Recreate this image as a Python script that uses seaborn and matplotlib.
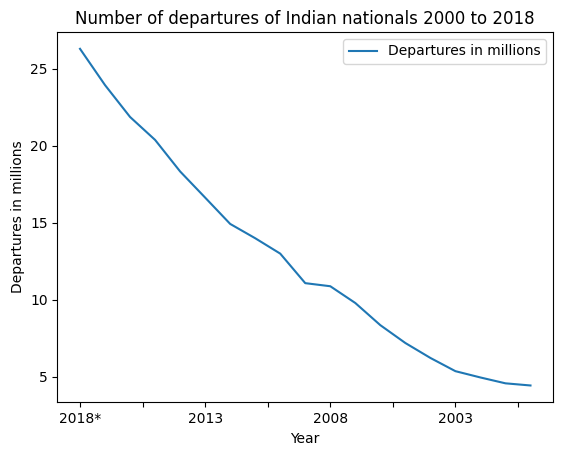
import numpy as np
import pandas as pd
import matplotlib
matplotlib.use('Agg')
import matplotlib.pyplot as plt
import seaborn as sns

# dados
anos = ['2018*', '2017', '2016', '2015', '2014', '2013', '2012', '2011', '2010', '2009',
        '2008', '2007', '2006', '2005', '2004', '2003', '2002', '2001', '2000']
partidas = [26.3, 23.94, 21.87, 20.38, 18.33, 16.63, 14.92, 13.99, 12.99, 11.07,
            10.87, 9.78, 8.34, 7.18, 6.21, 5.35, 4.94, 4.56, 4.42]

df = pd.DataFrame({'Year': anos, 'Departures in millions': partidas})
df['pos'] = range(len(df))

fig = plt.figure(figsize=(5.62, 4.55), dpi=100)
ax = fig.add_axes([0.1023, 0.1158, 0.8817, 0.8139])
sns.lineplot(data=df, x='pos', y='Departures in millions', ax=ax,
             color='#1f77b4', label='Departures in millions')

ticks = np.arange(0, len(df), 2.5)
ax.set_xticks(ticks)
ax.set_xticklabels([df['Year'][int(t)] if t % 5 == 0 else '' for t in ticks])
ax.set_xlim(-0.9, len(df) - 1 + 0.9)
ax.set_title('Number of departures of Indian nationals 2000 to 2018')
ax.set_xlabel('Year')
ax.set_ylabel('Departures in millions')
ax.legend(loc='upper right')

plt.savefig('out.png')
